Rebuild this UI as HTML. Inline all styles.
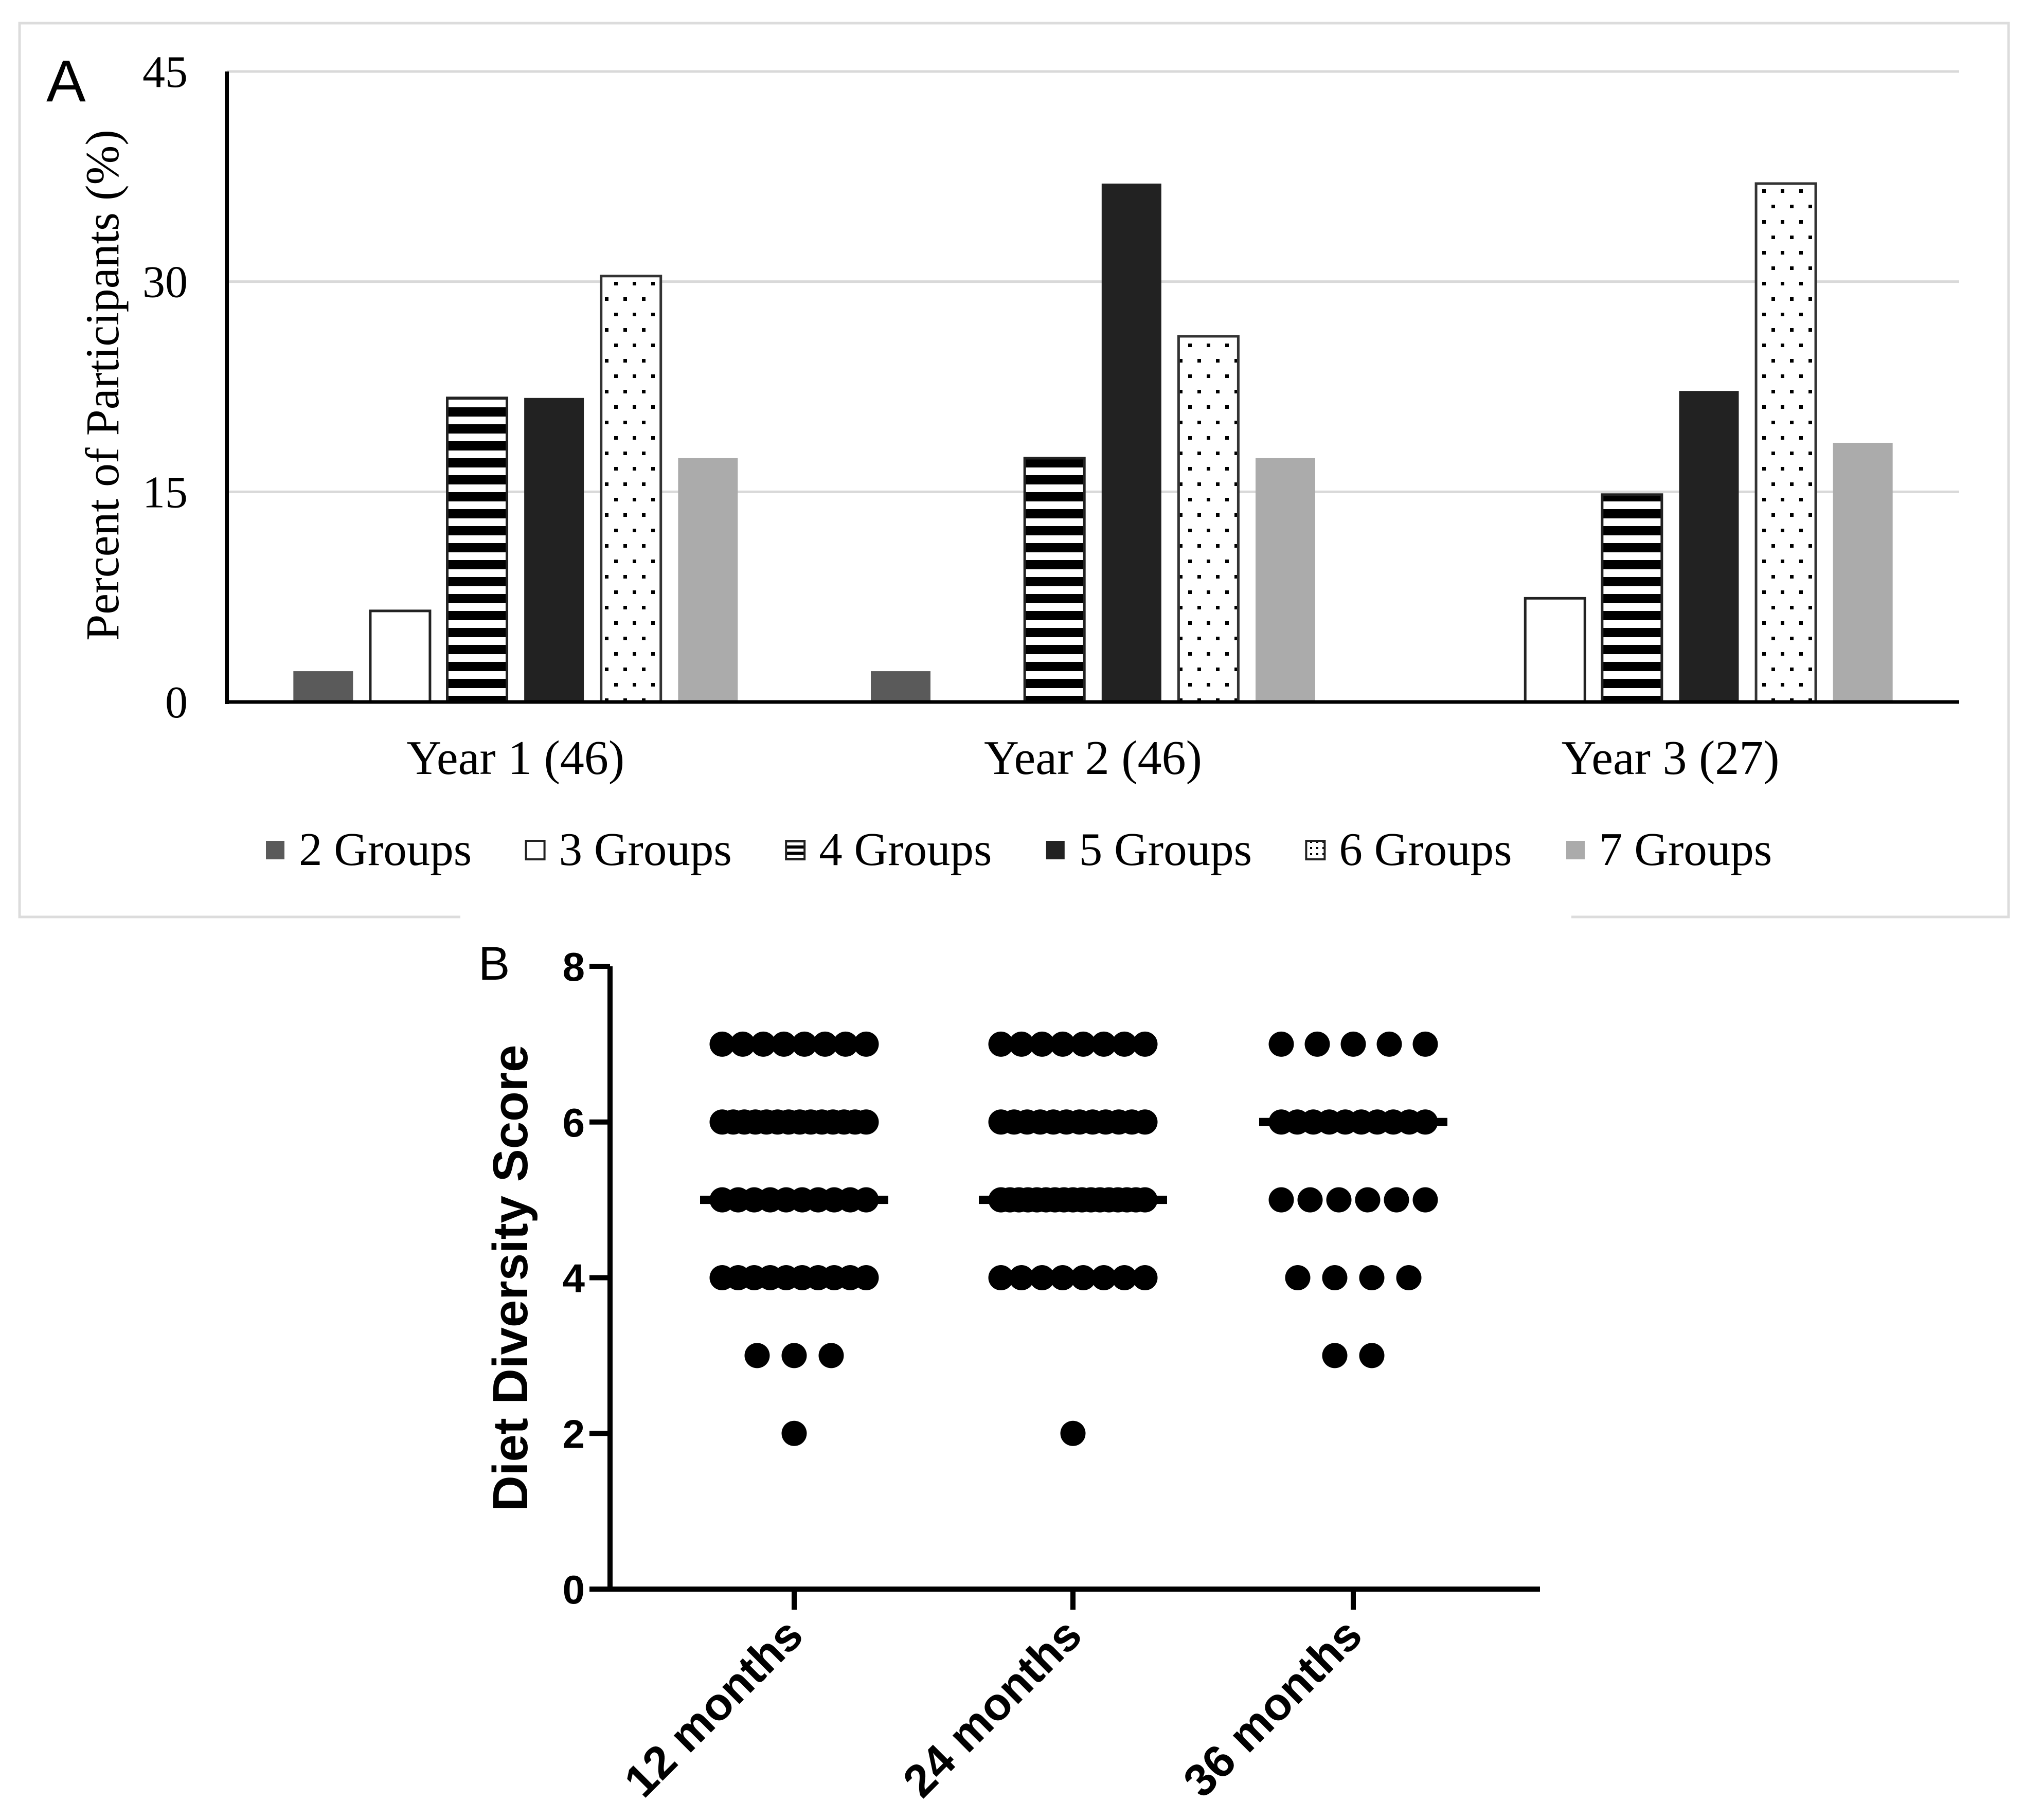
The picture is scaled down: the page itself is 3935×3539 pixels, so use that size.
<!DOCTYPE html>
<html><head><meta charset="utf-8"><style>html,body{margin:0;padding:0;background:#fff}svg{display:block}</style></head>
<body>
<svg id="fig" width="3935" height="3539" viewBox="0 0 3935 3539" xmlns="http://www.w3.org/2000/svg">
<defs>
<pattern id="stripes" patternUnits="userSpaceOnUse" width="20" height="33"><rect width="20" height="33" fill="#fff"/><rect width="20" height="18" fill="#000"/></pattern>
<pattern id="dots" patternUnits="userSpaceOnUse" width="36" height="60"><rect width="36" height="60" fill="#fff"/><rect x="6" y="8" width="7" height="7" fill="#000"/><rect x="24" y="38" width="7" height="7" fill="#000"/></pattern>
<pattern id="stripesL" patternUnits="userSpaceOnUse" width="20" height="12"><rect width="20" height="12" fill="#fff"/><rect width="20" height="6" fill="#000"/></pattern>
<pattern id="dotsL" patternUnits="userSpaceOnUse" width="12" height="12"><rect width="12" height="12" fill="#fff"/><rect x="3" y="3" width="4" height="4" fill="#000"/></pattern>
</defs>
<rect x="38" y="45" width="3867" height="1738" fill="none" stroke="#dcdcdc" stroke-width="5"/>
<g id="pa"></g>
<g id="pb"></g>
</svg>
<script>
// Panel A data
const yearLabels = ["Year 1 (46)", "Year 2 (46)", "Year 3 (27)"];
const groupNames = ["2 Groups", "3 Groups", "4 Groups", "5 Groups", "6 Groups", "7 Groups"];
const pct2 = [2.2, 2.2, 0];
const pct3 = [6.5, 0, 7.4];
const pct4 = [21.7, 17.4, 14.8];
const pct5 = [21.7, 37.0, 22.2];
const pct6 = [30.4, 26.1, 37.0];
const pct7 = [17.4, 17.4, 18.5];
const yTicksA = [0, 15, 30, 45];
// Panel B data
const ageLabels = ["12 months", "24 months", "36 months"];
const scoreLevels = [2, 3, 4, 5, 6, 7];
const counts12 = [1, 3, 10, 10, 14, 8];
const counts24 = [1, 0, 8, 17, 12, 8];
const counts36 = [0, 2, 4, 6, 10, 5];
const medians = [5, 5, 6];
const yTicksB = [0, 2, 4, 6, 8];

const NS = "http://www.w3.org/2000/svg";
function mk(parent, tag, attrs, text) {
  const e = document.createElementNS(NS, tag);
  for (const k in attrs) e.setAttribute(k, attrs[k]);
  if (text !== undefined) e.textContent = text;
  parent.appendChild(e);
  return e;
}
const serif = '"Liberation Serif", serif';
const sans = '"Liberation Sans", Arial, sans-serif';

// ---------- Panel A ----------
const pa = document.getElementById('pa');
const ax0 = 441, ax1 = 3809, ay0 = 1365, ay1 = 139;
const yA = v => ay0 - (v / 45) * (ay0 - ay1);
const band = (ax1 - ax0) / yearLabels.length;
const xCenter = i => ax0 + band * (i + 0.5);
const fills = ["#5a5a5a", "#fff", "url(#stripes)", "#222", "url(#dots)", "#ababab"];
const strokes = ["none", "#222", "#222", "none", "#333", "none"];
const legFills = ["#5a5a5a", "#fff", "url(#stripesL)", "#222", "url(#dotsL)", "#ababab"];
const series = [pct2, pct3, pct4, pct5, pct6, pct7];
const barW = 116, step = 149.6;

yTicksA.forEach(t => {
  if (t > 0) {
    const g = mk(pa, 'line', {x1: ax0, x2: ax1, y1: yA(t), y2: yA(t), stroke: '#d9d9d9', 'stroke-width': 5});
    
    
  }
  const l = mk(pa, 'text', {x: 365, y: yA(t) + 30, 'text-anchor': 'end', 'font-family': serif, 'font-size': 88}, String(t));
  
  
});

series.forEach((vals, s) => {
  vals.forEach((v, i) => {
    if (v <= 0) return;
    const x = xCenter(i) + (s - 2.5) * step - barW / 2;
    const r = mk(pa, 'rect', {x: x, y: yA(v), width: barW, height: ay0 - yA(v), fill: fills[s], stroke: strokes[s], 'stroke-width': 5});
    
    
  });
});

const yaxA = mk(pa, 'line', {x1: ax0, x2: ax0, y1: ay1, y2: ay0 + 4, stroke: '#000', 'stroke-width': 8});


const xaxA = mk(pa, 'line', {x1: ax0 - 4, x2: ax1, y1: ay0, y2: ay0, stroke: '#000', 'stroke-width': 7});



yearLabels.forEach((lab, i) => {
  const t = mk(pa, 'text', {x: xCenter(i), y: 1505, 'text-anchor': 'middle', 'font-family': serif, 'font-size': 94}, lab);
  
  
});

const ytA = mk(pa, 'text', {x: 0, y: 0, transform: 'translate(230,749) rotate(-90)', 'text-anchor': 'middle', 'font-family': serif, 'font-size': 92}, 'Percent of Participants (%)');


const labA = mk(pa, 'text', {x: 90, y: 197, 'font-family': sans, 'font-size': 115}, 'A');



groupNames.forEach((n, s) => {
  const lx = 517 + s * 505.6;
  const g = mk(pa, 'g', {});
  
  
  mk(g, 'rect', {x: lx, y: 1635, width: 36, height: 36, fill: legFills[s], stroke: strokes[s] === 'none' ? 'none' : '#222', 'stroke-width': 4});
  mk(g, 'text', {x: lx + 64, y: 1682, 'font-family': serif, 'font-size': 91}, n);
});

// ---------- Panel B ----------
const pb = document.getElementById('pb');
mk(pb, 'rect', {x: 895, y: 1778, width: 2160, height: 12, fill: '#fff'});
const bx0 = 1186, bx1 = 2994, by0 = 3090, by1 = 1879;
const yB = v => by0 - (v / 8) * (by0 - by1);
const catX = [1544, 2086, 2631];
const allCounts = [counts12, counts24, counts36];

const labB = mk(pb, 'text', {x: 930, y: 1905, 'font-family': sans, 'font-size': 92}, 'B');



allCounts.forEach((cnts, c) => {
  cnts.forEach((n, k) => {
    if (n <= 0) return;
    const sp = n > 1 ? Math.min(72, 280 / (n - 1)) : 0;
    for (let i = 0; i < n; i++) {
      const d = mk(pb, 'circle', {cx: catX[c] + (i - (n - 1) / 2) * sp, cy: yB(scoreLevels[k]), r: 24.5, fill: '#000'});
      
      
    }
  });
  const m = mk(pb, 'line', {x1: catX[c] - 183, x2: catX[c] + 183, y1: yB(medians[c]), y2: yB(medians[c]), stroke: '#000', 'stroke-width': 16});
  
  
});

const yaxB = mk(pb, 'line', {x1: bx0, x2: bx0, y1: by1, y2: by0 + 5, stroke: '#000', 'stroke-width': 10});


const xaxB = mk(pb, 'line', {x1: bx0 - 5, x2: bx1, y1: by0, y2: by0, stroke: '#000', 'stroke-width': 10});



yTicksB.forEach(t => {
  mk(pb, 'line', {x1: bx0 - 40, x2: bx0, y1: yB(t), y2: yB(t), stroke: '#000', 'stroke-width': 10});
  const l = mk(pb, 'text', {x: 1137, y: yB(t) + 28, 'text-anchor': 'end', 'font-family': sans, 'font-weight': 'bold', 'font-size': 78}, String(t));
  
  
});

ageLabels.forEach((lab, c) => {
  mk(pb, 'line', {x1: catX[c], x2: catX[c], y1: by0, y2: by0 + 40, stroke: '#000', 'stroke-width': 10});
  const t = mk(pb, 'text', {x: 0, y: 0, transform: 'translate(' + (catX[c] + 22) + ',' + (by0 + 95) + ') rotate(-45)', 'text-anchor': 'end', 'font-family': sans, 'font-weight': 'bold', 'font-size': 89}, lab);
  
  
});

const ytB = mk(pb, 'text', {x: 0, y: 0, transform: 'translate(1025,2485) rotate(-90)', 'text-anchor': 'middle', 'font-family': sans, 'font-weight': 'bold', 'font-size': 96}, 'Diet Diversity Score');


</script>
</body></html>
